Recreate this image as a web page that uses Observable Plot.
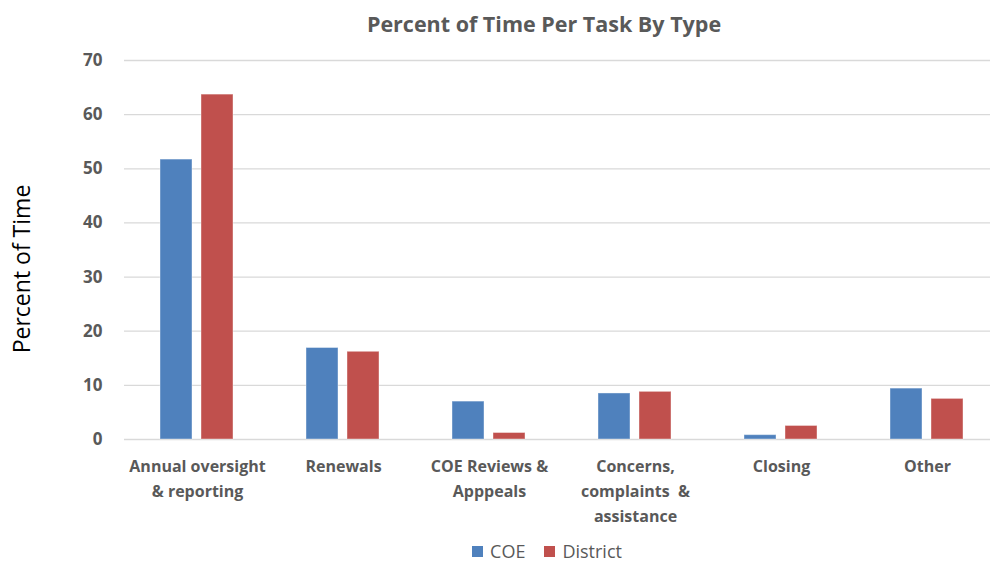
<!DOCTYPE html>
<html>
<head>
<meta charset="utf-8">
<script src="https://cdn.jsdelivr.net/npm/d3@7"></script>
<script src="https://cdn.jsdelivr.net/npm/@observablehq/plot@0.6"></script>
<style>
  html, body { margin: 0; padding: 0; background: #fff; }
  body { width: 990px; height: 563px; overflow: hidden; font-family: "Open Sans", Lato, sans-serif; }
  #title { height: 45px; line-height: 48px; font-size: 21.5px; font-weight: bold; color: #595959; text-align: center; padding-left: 98px; box-sizing: border-box; white-space: nowrap; }
  #legend { display: flex; justify-content: center; align-items: center; gap: 19px; padding-left: 104px; box-sizing: border-box; height: 24px; line-height: 24px; font-size: 18px; color: #595959; }
  #legend .item { display: flex; align-items: center; gap: 7px; }
  #legend .sw { width: 11px; height: 11px; display: inline-block; }
  #chart { height: 494px; overflow: hidden; }
  svg { display: block; }
</style>
</head>
<body>
<div id="title">Percent of Time Per Task By Type</div>
<div id="chart"></div>
<div id="legend"></div>
<script>
const categories = [
  "Annual oversight\n& reporting",
  "Renewals",
  "COE Reviews &\nApppeals",
  "Concerns,\ncomplaints  &\nassistance",
  "Closing",
  "Other"
];
const series = ["COE", "District"];
const coeValues = [51.7, 16.9, 7.0, 8.5, 0.8, 9.4];
const districtValues = [63.7, 16.2, 1.2, 8.8, 2.5, 7.5];
const colors = ["#4F81BD", "#C0504D"];
const yTicks = [0, 10, 20, 30, 40, 50, 60, 70];
const yLabel = "Percent of Time";

const data = [];
categories.forEach((c, i) => {
  data.push({category: c, series: series[0], value: coeValues[i]});
  data.push({category: c, series: series[1], value: districtValues[i]});
});

const chart = Plot.plot({
  width: 990,
  height: 494,
  marginTop: 15,
  marginBottom: 100,
  marginLeft: 121,
  marginRight: -12,
  style: {fontFamily: "'Open Sans', sans-serif", background: "#fff", overflow: "hidden"},
  fx: {domain: categories, padding: 0, label: null},
  x: {domain: series, paddingInner: 0.214, paddingOuter: 0.856, axis: null},
  y: {domain: [0, 70], label: null},
  color: {domain: series, range: colors},
  marks: [
    Plot.gridY(yTicks, {stroke: "#d9d9d9", strokeOpacity: 1, strokeWidth: 1.3}),
    Plot.axisY(yTicks, {tickSize: 0, tickPadding: 22, fontSize: 17, fontWeight: "bold", fill: "#595959", label: null}),
    Plot.text([yLabel], {facet: "super", frameAnchor: "left", rotate: -90, dx: -102, dy: 19, fontSize: 23, fill: "#000", lineAnchor: "middle", textAnchor: "middle"}),
    Plot.axisFx({anchor: "bottom", tickSize: 0, tickPadding: 15, fontSize: 16, fontWeight: "bold", fill: "#595959", lineHeight: 1.55, label: null}),
    Plot.barY(data, {fx: "category", x: "series", y: "value", fill: "series", stroke: "#ffffff", strokeOpacity: 0.4, strokeWidth: 1})
  ]
});
document.getElementById("chart").appendChild(chart);

const legend = document.getElementById("legend");
series.forEach((s, i) => {
  const item = document.createElement("span");
  item.className = "item";
  const sw = document.createElement("span");
  sw.className = "sw";
  sw.style.background = colors[i];
  const t = document.createElement("span");
  t.textContent = s;
  item.appendChild(sw);
  item.appendChild(t);
  legend.appendChild(item);
});
</script>
</body>
</html>
